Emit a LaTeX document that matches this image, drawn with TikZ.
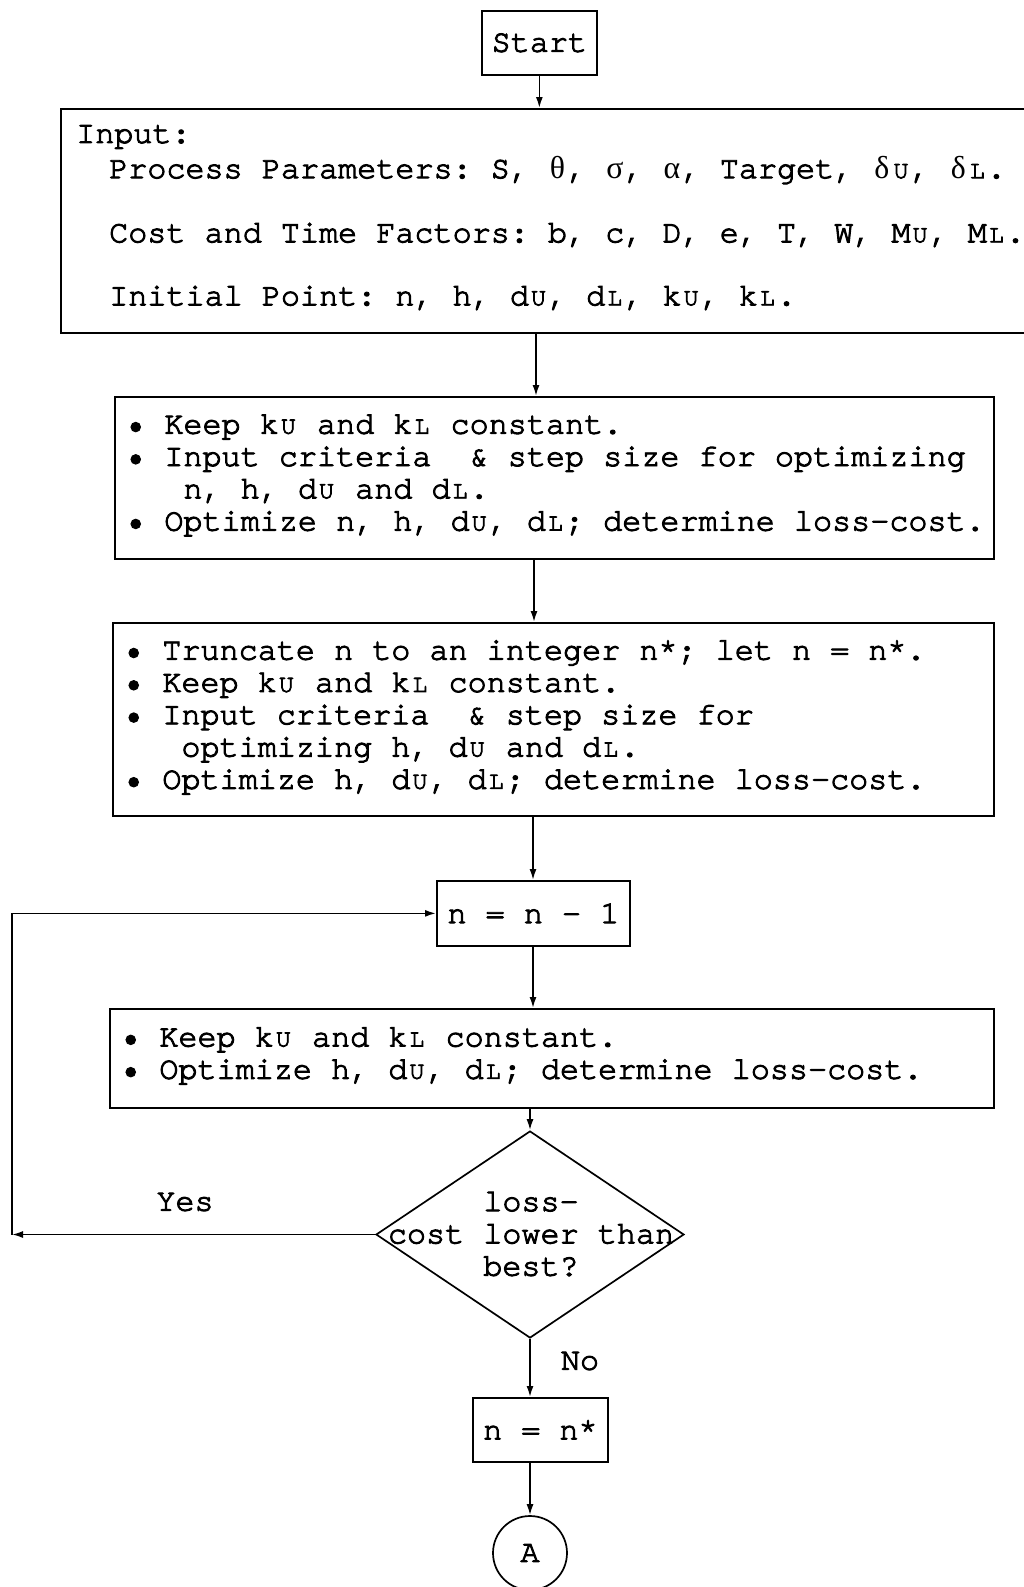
\documentclass[tikz,border=0pt]{standalone}
\usepackage{fontspec}
\newfontfamily\cour{texgyrecursor-regular.otf}[FakeBold=3]
\newfontfamily\grk{Liberation Serif}
\usetikzlibrary{arrows.meta,shapes.geometric}
\newcommand\su[1]{\makebox[0.6em][c]{\fontsize{25}{25}\selectfont #1}}
\newcommand\gk[1]{\makebox[0.6em]{\grk #1}}
\tikzset{
  box/.style={draw, line width=1.7pt, inner sep=0pt},
  mono/.style={font=\cour\fontsize{31.8}{32.3}\selectfont\frenchspacing},
  txt/.style={mono, inner sep=0pt, align=left},
  arr/.style={line width=1.7pt, -{Latex[length=11pt,width=7pt]}},
}
\begin{document}
\begin{tikzpicture}[x=1pt,y=-1pt]
\useasboundingbox (0,0) rectangle (1023,1587);
\fill[white] (0,0) rectangle (1023,1587);
% column coordinates for the vertical connectors
\coordinate (xa) at (536,0);
\coordinate (xb) at (534,0);
\coordinate (xc) at (533,0);
\coordinate (lc) at (12,0);

\node[box, mono, anchor=north west, minimum width=115pt, minimum height=64pt] (start) at (481,10) {Start};

\node[box, anchor=north west, minimum width=990pt, minimum height=224pt] (inp) at (60,108) {};
\node[txt, anchor=west] (in1) at (76,137) {Input:};
\node[txt, anchor=west] (in2) at (109,170) {Process Parameters: S, \gk{θ}, \gk{σ}, \gk{α}, Target, \gk{δ}\su{U}, \gk{δ}\su{L}.};
\node[txt, anchor=west] (in3) at (109,235) {Cost and Time Factors: b, c, D, e, T, W, M\su{U}, M\su{L}.};
\node[txt, anchor=west] (in4) at (109,298) {Initial Point: n, h, d\su{U}, d\su{L}, k\su{U}, k\su{L}.};

\node[box, anchor=north west, minimum width=879pt, minimum height=162pt] (b2) at (114,396) {};
\node[txt, anchor=west] (b2t) at (126,475.5) {\textbullet~Keep k\su{U}~and k\su{L}~constant.\\
\textbullet~Input criteria~~\&~step size for optimizing\\
~~~n, h, d\su{U}~and d\su{L}.\\
\textbullet~Optimize n, h, d\su{U}, d\su{L}; determine loss-cost.};

\node[box, anchor=north west, minimum width=881pt, minimum height=193pt] (b3) at (112,622) {};
\node[txt, anchor=west] (b3t) at (124,717.5) {\textbullet~Truncate n to an integer n*; let n = n*.\\
\textbullet~Keep k\su{U}~and k\su{L}~constant.\\
\textbullet~Input criteria~~\&~step size for\\
~~~optimizing h, d\su{U}~and d\su{L}.\\
\textbullet~Optimize h, d\su{U}, d\su{L}; determine loss-cost.};

\node[box, mono, anchor=north west, minimum width=193pt, minimum height=65pt] (nb) at (436,880) {n = n - 1};

\node[box, anchor=north west, minimum width=884pt, minimum height=99pt] (b4) at (109,1008) {};
\node[txt, anchor=west] (b4t) at (121,1056) {\textbullet~Keep k\su{U}~and k\su{L}~constant.\\
\textbullet~Optimize h, d\su{U}, d\su{L}; determine loss-cost.};

\node[draw, diamond, line width=1.7pt, inner sep=0pt, minimum width=308pt, minimum height=207pt] (dia) at (530,1234.5) {};
\node[txt, align=center] (diat) at (531,1234) {loss-\\cost lower than\\best?};

\node[txt] (yes) at (185,1202) {Yes};
\node[txt] (no) at (580,1361) {No};

\node[box, mono, anchor=north west, minimum width=135pt, minimum height=64pt] (ns) at (472,1397) {n = n*};
\node[draw, circle, line width=1.7pt, mono, inner sep=0pt, minimum size=74pt] (A) at (530,1553) {A};

\draw[arr] (start.south) -- (start.south |- inp.north);
\draw[arr] (inp.south -| xa) -- (b2.north -| xa);
\draw[arr] (b2.south -| xb) -- (b3.north -| xb);
\draw[arr] (b3.south -| xc) -- (nb.north -| xc);
\draw[arr] (nb.south -| xc) -- (b4.north -| xc);
\draw[arr] (b4.south -| dia.north) -- (dia.north);
\draw[arr] (dia.south) -- (dia.south |- ns.north);
\draw[arr] (ns.south -| A.north) -- (A.north);
\draw[arr] (dia.west) -- (dia.west -| lc);
\draw[arr] (dia.west -| lc) -- (nb.west -| lc) -- (nb.west);
\end{tikzpicture}
\end{document}
